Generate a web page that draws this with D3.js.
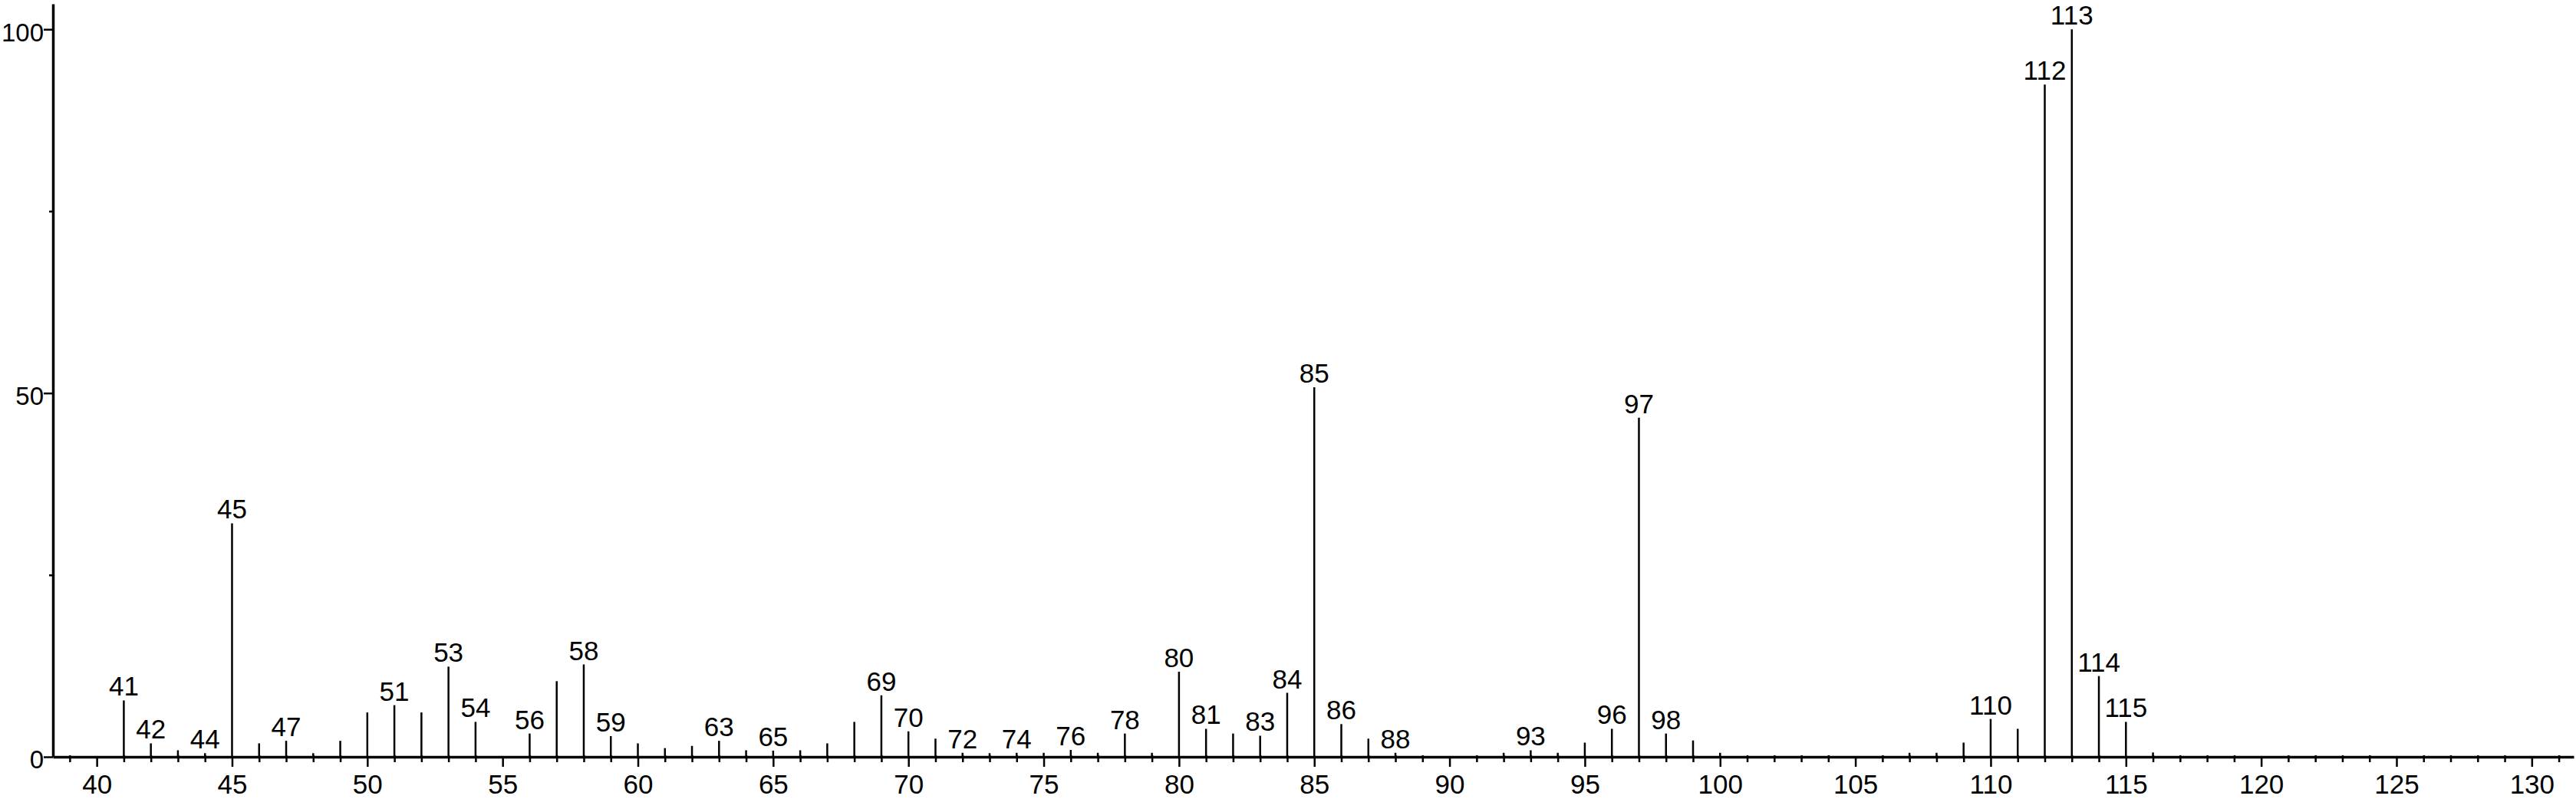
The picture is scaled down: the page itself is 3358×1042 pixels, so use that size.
<!DOCTYPE html>
<meta charset="utf-8">

<!-- Load d3.js -->
<script src="https://d3js.org/d3.v7.min.js"></script>

<!-- Create a div where the graph will take place -->
<div id="spectrum"></div>

<style>
  body { margin: 0; background: #fff; }
  text { font-family: Arial, "Liberation Sans", sans-serif; font-size: 35px; fill: #000; }
  .y-axis text { font-size: 33px; }
  .peak { stroke: #000; stroke-width: 2.5px; }
  .axis path { stroke: #000; stroke-width: 3.5px; }
  .axis line { stroke: #000; stroke-width: 2.5px; }
</style>

<script>

    // m/z values and relative intensities
    var mz = [41, 42, 43, 44, 45, 46, 47, 48, 49, 50,
              51, 52, 53, 54, 56, 57, 58, 59, 60, 61,
              62, 63, 64, 65, 66, 67, 68, 69, 70, 71,
              72, 73, 74, 75, 76, 77, 78, 79, 80, 81,
              82, 83, 84, 85, 86, 87, 88, 92, 93, 94,
              95, 96, 97, 98, 99, 100, 107, 108, 109, 110,
              111, 112, 113, 114, 115, 116];
    var intensity = [7.75, 1.85, 0.9, 0.5, 32.1, 1.85, 2.2, 0.5, 2.2, 6.1,
                     7.1, 6.1, 12.4, 4.8, 3.2, 10.4, 12.7, 2.85, 1.85, 1.2,
                     1.5, 2.2, 0.9, 0.85, 0.9, 1.85, 4.8, 8.45, 3.5, 2.5,
                     0.55, 0.5, 0.55, 0.55, 0.95, 0.55, 3.2, 0.55, 11.7, 3.85,
                     3.2, 2.9, 8.8, 50.8, 4.5, 2.5, 0.55, 0.55, 0.9, 0.55,
                     1.95, 3.85, 46.6, 3.2, 2.25, 0.55, 0.55, 0.55, 1.95, 5.2,
                     3.85, 92.4, 100, 11.1, 4.8, 0.6];

    // peaks that carry a text label
    var labelled = [41, 42, 44, 45, 47, 51, 53, 54, 56, 58, 59, 63, 65, 69, 70,
                    72, 74, 76, 78, 80, 81, 83, 84, 85, 86, 88, 93, 96, 97, 98,
                    110, 112, 113, 114, 115];

    // axis ticks
    var xMajorTicks = d3.range(40, 131, 5);
    var xMinorTicks = d3.range(39, 132).filter(function(d) { return d % 5 != 0; });
    var yMajorTicks = [0, 50, 100];
    var yMinorTicks = [25, 75];

    var width = 3358,
        height = 1042;

    var data = mz.map(function(m, i) {
      return {mz: m, value: intensity[i], label: labelled.indexOf(m) >= 0};
    });

    var svg = d3.select("#spectrum")
      .append("svg")
        .attr("width", width)
        .attr("height", height);

    // scales
    var x = d3.scaleLinear()
      .domain([38.38, 131.55])
      .range([69, 3355]);

    var y = d3.scaleLinear()
      .domain([0, 103.5])
      .range([987, 5]);

    // minor x ticks (cross the axis a little)
    svg.append("g")
      .attr("class", "axis")
      .attr("transform", "translate(0," + (y(0) - 2) + ")")
      .call(d3.axisBottom(x)
        .tickValues(xMinorTicks)
        .tickSize(9)
        .tickSizeOuter(0)
        .tickFormat(""))
      .select(".domain").remove();

    // major x ticks with labels
    svg.append("g")
      .attr("class", "axis")
      .attr("transform", "translate(0," + y(0) + ")")
      .call(d3.axisBottom(x)
        .tickValues(xMajorTicks)
        .tickSize(13)
        .tickSizeOuter(0)
        .tickPadding(10))
      .call(function(g) { g.selectAll("text").attr("font-size", null).attr("font-family", null); });

    // minor y ticks
    svg.append("g")
      .attr("class", "axis")
      .attr("transform", "translate(" + x.range()[0] + ",0)")
      .call(d3.axisLeft(y)
        .tickValues(yMinorTicks)
        .tickSize(5)
        .tickFormat(""))
      .select(".domain").remove();

    // major y ticks with labels
    svg.append("g")
      .attr("class", "axis y-axis")
      .attr("transform", "translate(" + x.range()[0] + ",0)")
      .call(d3.axisLeft(y)
        .tickValues(yMajorTicks)
        .tickSize(12)
        .tickSizeOuter(0)
        .tickPadding(0))
      .call(function(g) {
        g.selectAll("text")
          .attr("font-size", null)
          .attr("font-family", null)
          .attr("dy", "0.45em");
      });

    // peaks
    svg.selectAll(".peak")
      .data(data)
      .enter()
      .append("line")
        .attr("class", "peak")
        .attr("x1", function(d) { return x(d.mz); })
        .attr("x2", function(d) { return x(d.mz); })
        .attr("y1", y(0))
        .attr("y2", function(d) { return y(d.value); });

    // peak labels
    svg.selectAll(".peak-label")
      .data(data.filter(function(d) { return d.label; }))
      .enter()
      .append("text")
        .attr("class", "peak-label")
        .attr("x", function(d) { return x(d.mz); })
        .attr("y", function(d) { return y(d.value) - 6; })
        .attr("text-anchor", "middle")
        .text(function(d) { return d.mz; });

</script>
